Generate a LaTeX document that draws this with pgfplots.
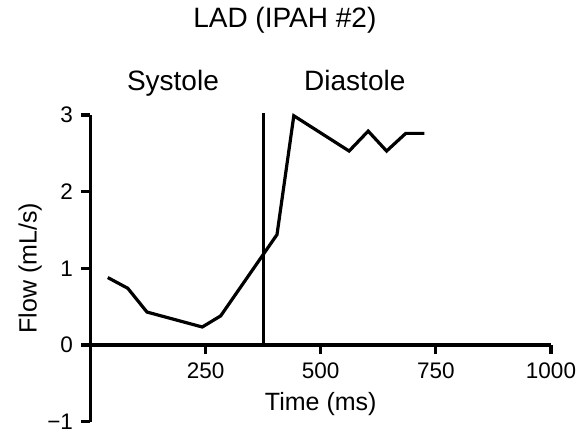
\documentclass[border=0pt]{standalone}
\usepackage{fontspec}
\setmainfont{Liberation Sans}
\usepackage{pgfplots}
\pgfplotsset{compat=1.18}
\begin{document}
\fontsize{25}{30}\selectfont
\begin{tikzpicture}[font=\fontsize{25}{30}\selectfont]
\useasboundingbox (-90.5pt,-11pt) rectangle (491.5pt,421.7pt);
\begin{axis}[
  scale only axis, width=460.5pt, height=306.7pt,
  xmin=0, xmax=1000, ymin=-1, ymax=3,
  axis x line=middle, axis y line=left,
  axis line style={line width=3.2pt,-},
  xtick={250,500,750,1000}, ytick={-1,0,1,2,3},
  xticklabels={250,500,750,1000},
  yticklabels={−1,0,1,2,3},
  tick align=outside, major tick length=9pt,
  tick style={line width=3.2pt,black},
  every tick label/.append style={font=\fontsize{22.5}{27}\selectfont},
  xlabel={Time (ms)}, ylabel={Flow (mL/s)},
  every axis x label/.style={at={(rel axis cs:0.5,0.057)}, anchor=center},
  every axis y label/.style={at={(rel axis cs:-0.131,0.5)}, rotate=90, anchor=center},
  clip=false,
]
\addplot[line width=3.2pt, black, line join=miter] coordinates {
(37.5,0.88)(81,0.74)(122.6,0.43)(242.7,0.235)(282.7,0.38)(405,1.44)(441.5,2.99)(561.6,2.53)(603,2.79)(643,2.53)(684.5,2.76)(725,2.76)
};
\addplot[line width=3.2pt, black] coordinates {(375,0)(375,3.02)};
\node[anchor=base, font=\fontsize{28}{33}\selectfont] at (axis cs:179,3.325) {Systole};
\node[anchor=base, font=\fontsize{28}{33}\selectfont] at (axis cs:574,3.325) {Diastole};
\node[anchor=base, font=\fontsize{28}{33}\selectfont] at (axis cs:422,4.14) {LAD (IPAH \#2)};
\end{axis}
\end{tikzpicture}
\end{document}
